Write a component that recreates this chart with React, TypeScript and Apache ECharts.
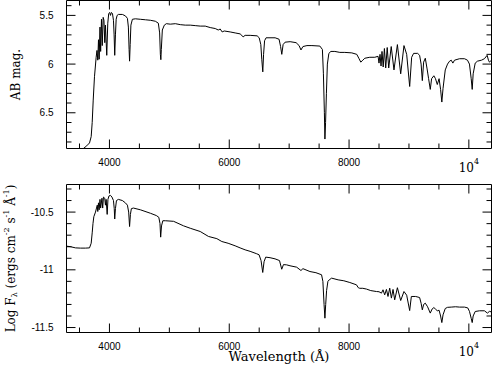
import React, { useEffect, useRef } from "react";
import * as echarts from "echarts";

// ---- Top panel: AB magnitude vs wavelength (Å) ----
const topWavelength: number[] = [
  3290, 3450, 3560, 3620, 3667, 3695, 3712, 3729, 3750, 3778, 3792, 3805, 3817, 3828, 3842, 3853, 3867, 3880,
  3895, 3908, 3922, 3933, 3955, 3972, 3988, 4005, 4017, 4033, 4050, 4067, 4078, 4088, 4100, 4112, 4128, 4150,
  4216, 4266, 4300, 4316, 4328, 4336, 4346, 4358, 4383, 4433, 4516, 4600, 4683, 4766, 4816, 4838, 4850, 4858,
  4866, 4883, 4916, 4950, 5016, 5100, 5183, 5266, 5349, 5432, 5516, 5599, 5682, 5766, 5816, 5849, 5882, 5916,
  6016, 6099, 6182, 6232, 6265, 6349, 6466, 6500, 6527, 6543, 6560, 6573, 6590, 6615, 6766, 6832, 6857, 6877,
  6899, 6932, 7016, 7116, 7166, 7197, 7230, 7297, 7380, 7513, 7555, 7572, 7588, 7597, 7608, 7622, 7638, 7663,
  7697, 7763, 7846, 7929, 8046, 8129, 8163, 8196, 8230, 8263, 8346, 8430, 8484, 8500, 8517, 8534, 8550, 8570,
  8590, 8612, 8637, 8662, 8704, 8750, 8807, 8862, 8917, 8962, 9012, 9045, 9078, 9145, 9178, 9203, 9223, 9245,
  9273, 9303, 9328, 9356, 9378, 9416, 9443, 9473, 9503, 9528, 9549, 9569, 9606, 9644, 9678, 9706, 9733, 9761,
  9844, 9927, 9977, 10010, 10039, 10056, 10072, 10106, 10144, 10211, 10260, 10305, 10327, 10344, 10377,
];
const abMag: number[] = [
  7.02, 6.93, 6.87, 6.84, 6.81, 6.745, 6.6, 6.37, 6.13, 5.93, 5.86, 5.96, 5.75, 5.95, 5.62, 5.87, 5.54, 5.81,
  5.52, 5.55, 5.78, 5.6, 5.91, 5.58, 5.48, 5.47, 5.5, 5.47, 5.48, 5.55, 5.7, 5.91, 5.7, 5.54, 5.5, 5.49,
  5.49, 5.505, 5.53, 5.62, 5.85, 5.97, 5.8, 5.6, 5.54, 5.535, 5.54, 5.545, 5.55, 5.56, 5.58, 5.68, 5.9, 5.955,
  5.85, 5.65, 5.6, 5.585, 5.59, 5.585, 5.595, 5.6, 5.6, 5.605, 5.61, 5.61, 5.625, 5.635, 5.65, 5.64, 5.67, 5.66,
  5.67, 5.68, 5.69, 5.72, 5.705, 5.705, 5.71, 5.73, 5.8, 5.95, 6.08, 5.9, 5.76, 5.73, 5.73, 5.745, 5.82, 5.9,
  5.8, 5.775, 5.77, 5.78, 5.81, 5.855, 5.82, 5.81, 5.81, 5.815, 5.85, 6.1, 6.5, 6.77, 6.6, 6.3, 6.0, 5.89,
  5.87, 5.87, 5.88, 5.88, 5.885, 5.9, 5.94, 5.98, 5.96, 5.94, 5.93, 5.93, 5.92, 5.99, 5.9, 6.02, 5.87, 6.03,
  5.84, 6.04, 5.83, 6.04, 5.82, 6.06, 5.8, 6.1, 5.81, 5.9, 6.23, 5.93, 5.89, 5.89, 5.91, 6.0, 6.17, 5.98,
  5.94, 6.05, 6.15, 6.26, 6.15, 6.12, 6.15, 6.21, 6.15, 6.26, 6.39, 6.25, 6.06, 6.0, 5.97, 5.96, 5.99, 5.96,
  5.945, 5.945, 5.96, 6.0, 6.15, 6.26, 6.1, 5.99, 5.97, 5.96, 5.945, 5.91, 5.96, 5.98, 5.96,
];

// ---- Bottom panel: log F_lambda vs wavelength (Å) ----
const bottomWavelength: number[] = [
  3284, 3351, 3434, 3517, 3600, 3667, 3695, 3712, 3725, 3739, 3767, 3784, 3797, 3805, 3817, 3828, 3842, 3853,
  3875, 3887, 3900, 3922, 3933, 3945, 3962, 3975, 3992, 4017, 4042, 4067, 4080, 4088, 4100, 4117, 4150, 4216,
  4266, 4300, 4321, 4336, 4350, 4366, 4400, 4516, 4683, 4783, 4824, 4844, 4855, 4869, 4891, 4933, 5071, 5237,
  5349, 5515, 5653, 5793, 5876, 5981, 6098, 6181, 6265, 6348, 6459, 6498, 6531, 6559, 6581, 6609, 6681, 6764,
  6839, 6876, 6905, 6958, 7014, 7125, 7197, 7230, 7347, 7447, 7541, 7563, 7583, 7597, 7610, 7625, 7647, 7669,
  7709, 7818, 7913, 8013, 8124, 8154, 8179, 8229, 8291, 8362, 8457, 8500, 8541, 8567, 8595, 8624, 8650, 8679,
  8707, 8734, 8762, 8807, 8862, 8917, 8962, 9012, 9040, 9112, 9178, 9203, 9223, 9245, 9273, 9311, 9356, 9386,
  9416, 9443, 9473, 9503, 9528, 9549, 9569, 9606, 9644, 9706, 9778, 9844, 9927, 9982, 10010, 10039, 10056, 10072,
  10106, 10178, 10260, 10310, 10344, 10377,
];
const logFlux: number[] = [
  -10.795, -10.8, -10.81, -10.812, -10.812, -10.81, -10.77, -10.68, -10.6, -10.54, -10.5, -10.465, -10.44, -10.495, -10.42, -10.48, -10.39, -10.465,
  -10.38, -10.465, -10.37, -10.38, -10.44, -10.39, -10.52, -10.39, -10.36, -10.355, -10.37, -10.4, -10.47, -10.56, -10.47, -10.4, -10.39, -10.4,
  -10.42, -10.44, -10.5, -10.625, -10.52, -10.47, -10.465, -10.48, -10.51, -10.53, -10.545, -10.6, -10.717, -10.62, -10.575, -10.575, -10.58, -10.619,
  -10.64, -10.668, -10.711, -10.73, -10.755, -10.77, -10.792, -10.81, -10.827, -10.84, -10.861, -10.87, -10.92, -11.023, -10.93, -10.89, -10.895, -10.905,
  -10.92, -10.995, -10.955, -10.957, -10.965, -10.977, -11.006, -10.99, -11.015, -11.025, -11.043, -11.1, -11.3, -11.419, -11.3, -11.18, -11.1, -11.087,
  -11.072, -11.087, -11.095, -11.11, -11.13, -11.155, -11.16, -11.16, -11.167, -11.18, -11.188, -11.19, -11.202, -11.173, -11.217, -11.17, -11.231, -11.159,
  -11.245, -11.17, -11.26, -11.155, -11.266, -11.188, -11.22, -11.353, -11.231, -11.231, -11.24, -11.29, -11.347, -11.3, -11.289, -11.32, -11.375, -11.34,
  -11.327, -11.34, -11.355, -11.35, -11.4, -11.457, -11.39, -11.335, -11.325, -11.323, -11.32, -11.323, -11.323, -11.33, -11.36, -11.42, -11.457, -11.4,
  -11.361, -11.355, -11.355, -11.375, -11.36, -11.365,
];

// ---- Tick values ----
const xMajorTicks: number[] = [4000, 6000, 8000, 10000];
const xMinorTicks: number[] = [3500, 4500, 5000, 5500, 6500, 7000, 7500, 8500, 9000, 9500];
const magMajorTicks: number[] = [5.5, 6, 6.5];
const magMinorTicks: number[] = [5.4, 5.6, 5.7, 5.8, 5.9, 6.1, 6.2, 6.3, 6.4, 6.6, 6.7, 6.8];
const fluxMajorTicks: number[] = [-10.5, -11, -11.5];
const fluxMinorTicks: number[] = [-10.3, -10.4, -10.6, -10.7, -10.8, -10.9, -11.1, -11.2, -11.3, -11.4];

// ---- Axis extents ----
const X_MIN = 3283;
const X_MAX = 10378;
const MAG_MIN = 5.347;
const MAG_MAX = 6.867;
const FLUX_MIN = -11.543;
const FLUX_MAX = -10.261;

// ---- Layout ----
const GRID_LEFT = 66.5;
const GRID_WIDTH = 425;
const GRID_HEIGHT = 148;
const TOP_GRID_TOP = 0.5;
const BOTTOM_GRID_TOP = 184.5;
const MAJOR_LEN = 9;
const MINOR_LEN = 5;

const BLACK = "#000";
const SANS = "'Liberation Sans', Arial, sans-serif";
const SERIF = "'DejaVu Serif', 'Liberation Serif', serif";

function zip(a: number[], b: number[]): number[][] {
  return a.map((v, i) => [v, b[i]]);
}

function xFormatter(v: number): string {
  return Math.abs(v - 10000) < 1e-6 ? "{s|10}{p|4}" : String(Math.round(v));
}

function yFormatter(v: number): string {
  return String(Math.round(v * 10) / 10);
}

// Frame and inward ticks of one panel, as segments through the panel's own axes.
// yBottom / yTop are the axis values at the lower / upper edge of the plot.
function frameAndTicks(
  yBottom: number,
  yTop: number,
  yMajor: number[],
  yMinor: number[]
): (number | null)[][] {
  const gap: (number | null)[] = [null, null];
  const yPerPx = (yTop - yBottom) / GRID_HEIGHT;
  const xPerPx = (X_MAX - X_MIN) / GRID_WIDTH;
  const out: (number | null)[][] = [
    [X_MIN, yBottom],
    [X_MAX, yBottom],
    [X_MAX, yTop],
    [X_MIN, yTop],
    [X_MIN, yBottom],
    gap,
  ];
  const addX = (v: number, len: number) => {
    out.push([v, yBottom], [v, yBottom + len * yPerPx], gap);
    out.push([v, yTop], [v, yTop - len * yPerPx], gap);
  };
  const addY = (v: number, len: number) => {
    out.push([X_MIN, v], [X_MIN + len * xPerPx, v], gap);
    out.push([X_MAX, v], [X_MAX - len * xPerPx, v], gap);
  };
  xMajorTicks.forEach((v) => addX(v, MAJOR_LEN));
  xMinorTicks.forEach((v) => addX(v, MINOR_LEN));
  yMajor.forEach((v) => addY(v, MAJOR_LEN));
  yMinor.forEach((v) => addY(v, MINOR_LEN));
  return out;
}

function makeXAxis(gridIndex: number, withName: boolean) {
  const axis: any = {
    type: "value",
    gridIndex,
    position: "bottom",
    min: X_MIN,
    max: X_MAX,
    splitNumber: 4,
    splitLine: { show: false },
    axisLine: { show: false },
    axisTick: { show: false },
    axisLabel: {
      show: true,
      showMinLabel: false,
      showMaxLabel: false,
      margin: 9,
      color: BLACK,
      fontFamily: SANS,
      fontSize: 10,
      formatter: xFormatter,
      rich: {
        s: { fontFamily: SERIF, fontSize: 12, color: BLACK, verticalAlign: "bottom", lineHeight: 16 },
        p: { fontFamily: SERIF, fontSize: 8, color: BLACK, verticalAlign: "top", lineHeight: 16 },
      },
    },
  };
  if (withName) {
    axis.name = "Wavelength (Å)";
    axis.nameLocation = "middle";
    axis.nameGap = 17;
    axis.nameMoveOverlap = false;
    axis.nameTextStyle = { fontFamily: SERIF, fontSize: 13, color: BLACK };
  }
  return axis;
}

function makeYAxis(gridIndex: number, min: number, max: number, inverse: boolean, name: string, nameGap: number, rich: any) {
  return {
    type: "value",
    gridIndex,
    position: "left",
    min,
    max,
    inverse,
    splitNumber: 3,
    splitLine: { show: false },
    axisLine: { show: false },
    axisTick: { show: false },
    axisLabel: {
      show: true,
      showMinLabel: false,
      showMaxLabel: false,
      margin: 13,
      color: BLACK,
      fontFamily: SANS,
      fontSize: 10,
      formatter: yFormatter,
    },
    name,
    nameLocation: "middle",
    nameRotate: 90,
    nameGap,
    nameMoveOverlap: false,
    nameTextStyle: { fontFamily: SERIF, fontSize: 12, color: BLACK, rich },
  };
}

function lineSeries(axisIndex: number, data: (number | null)[][], clip: boolean) {
  return {
    type: "line",
    xAxisIndex: axisIndex,
    yAxisIndex: axisIndex,
    data,
    showSymbol: false,
    symbol: "none",
    connectNulls: false,
    clip,
    silent: true,
    lineStyle: { color: BLACK, width: 1 },
  };
}

export default function App() {
  const ref = useRef<HTMLDivElement>(null);

  useEffect(() => {
    if (!ref.current) return;
    const chart = echarts.init(ref.current, null, { renderer: "svg" });

    const fluxRich = {
      sub: { fontFamily: SERIF, fontSize: 8, color: BLACK, verticalAlign: "bottom", lineHeight: 16 },
      sup: { fontFamily: SERIF, fontSize: 8, color: BLACK, verticalAlign: "top", lineHeight: 16 },
    };

    const option: any = {
      animation: false,
      grid: [
        { left: GRID_LEFT, top: TOP_GRID_TOP, width: GRID_WIDTH, height: GRID_HEIGHT, outerBoundsMode: "none" },
        { left: GRID_LEFT, top: BOTTOM_GRID_TOP, width: GRID_WIDTH, height: GRID_HEIGHT, outerBoundsMode: "none" },
      ],
      xAxis: [makeXAxis(0, false), makeXAxis(1, true)],
      yAxis: [
        makeYAxis(0, MAG_MIN, MAG_MAX, true, "AB mag.", 45, {}),
        makeYAxis(1, FLUX_MIN, FLUX_MAX, false, "Log F{sub|λ} (ergs cm{sup|-2} s{sup|-1} Å{sup|-1})", 48, fluxRich),
      ],
      series: [
        lineSeries(0, zip(topWavelength, abMag), true),
        lineSeries(1, zip(bottomWavelength, logFlux), true),
        lineSeries(0, frameAndTicks(MAG_MAX, MAG_MIN, magMajorTicks, magMinorTicks), false),
        lineSeries(1, frameAndTicks(FLUX_MIN, FLUX_MAX, fluxMajorTicks, fluxMinorTicks), false),
      ],
    };

    chart.setOption(option);
    return () => {
      chart.dispose();
    };
  }, []);

  return (
    <div
      ref={ref}
      style={{ position: "fixed", left: 0, top: 0, width: 496, height: 374, background: "#fff" }}
    />
  );
}
